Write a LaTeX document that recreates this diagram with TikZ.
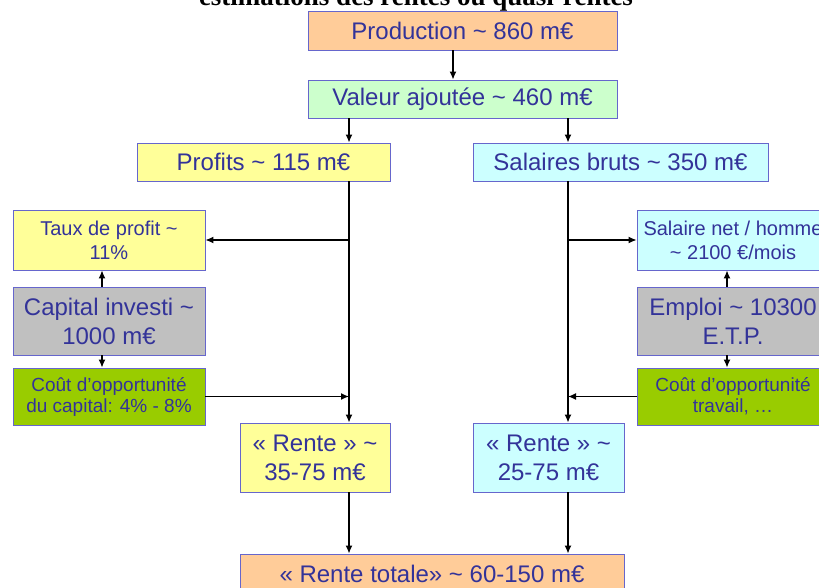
\documentclass[tikz,border=0pt]{standalone}
\usepackage{fontspec}
\setmainfont{Liberation Sans}
\newfontfamily\titlefont{Liberation Serif}
\usepackage{tikz}
\usetikzlibrary{arrows.meta}
\definecolor{boxline}{RGB}{102,102,204}
\definecolor{txtblue}{RGB}{51,51,153}
\definecolor{prodc}{HTML}{FFCC99}
\definecolor{vac}{HTML}{CCFFCC}
\definecolor{yelc}{HTML}{FFFF99}
\definecolor{cyanc}{HTML}{CCFFFF}
\definecolor{grayc}{HTML}{C0C0C0}
\definecolor{greenc}{HTML}{99CC00}

\begin{document}
\begin{tikzpicture}[x=1pt,y=-1pt,>={Latex[length=8pt,width=7pt]},
    box/.style={draw=boxline,line width=0.8pt,text=txtblue,align=center,inner sep=0pt,
      font=\fontsize{24}{29}\selectfont},
    bigbox/.style={box,font=\fontsize{24}{29}\selectfont},
    smallbox/.style={box,font=\fontsize{20}{24}\selectfont},
    costbox/.style={box,fill=greenc,minimum width=192pt,minimum height=57pt,
      font=\fontsize{19}{21}\selectfont},
    arr/.style={->,line width=1.4pt}]
  \useasboundingbox (0,0) rectangle (819,588);

  \node[anchor=base,font=\titlefont\bfseries\fontsize{27}{30}\selectfont] (title) at (416,6)
    {estimations des rentes ou quasi-rentes};

  \node[box,fill=prodc,minimum width=309pt,minimum height=39pt] (prod) at (462.5,30.5)
    {Production \textasciitilde{} 860 m€};
  \node[box,fill=vac,minimum width=309pt,minimum height=38pt] (va) at (462.5,99)
    {Valeur ajoutée \textasciitilde{} 460 m€};
  \node[box,fill=yelc,minimum width=253pt,minimum height=38pt] (profits) at (263.5,162)
    {Profits \textasciitilde{} 115 m€};
  \node[box,fill=cyanc,minimum width=295pt,minimum height=38pt] (salaires) at (620.5,162)
    {Salaires bruts \textasciitilde{} 350 m€};

  \node[smallbox,fill=yelc,minimum width=192pt,minimum height=60pt] (taux) at (109,240)
    {Taux de profit \textasciitilde{}\\11\%};
  \node[bigbox,fill=grayc,minimum width=192pt,minimum height=68pt] (capital) at (109,321)
    {Capital investi \textasciitilde{}\\1000 m€};
  \node[costbox] (coutcap) at (109,396.5) {Coût d’opportunité\\du capital: 4\% - 8\%};

  \node[smallbox,fill=cyanc,minimum width=192pt,minimum height=60pt] (salnet) at (733,240)
    {Salaire net / homme\\\textasciitilde{} 2100 €/mois};
  \node[bigbox,fill=grayc,minimum width=192pt,minimum height=68pt] (emploi) at (733,321)
    {Emploi \textasciitilde{} 10300\\E.T.P.};
  \node[costbox] (couttrav) at (733,396.5) {Coût d’opportunité\\travail, …};

  \node[box,fill=yelc,minimum width=150pt,minimum height=69pt] (renteL) at (315,457.5)
    {« Rente » \textasciitilde{}\\35-75 m€};
  \node[box,fill=cyanc,minimum width=151pt,minimum height=69pt] (renteR) at (548.5,457.5)
    {« Rente » \textasciitilde{}\\25-75 m€};
  \node[box,fill=prodc,minimum width=384pt,minimum height=40pt] (total) at (432,574)
    {« Rente totale» \textasciitilde{} 60-150 m€};

  \coordinate (xL) at (349,0);
  \coordinate (xR) at (568,0);

  \draw[arr] ([xshift=-9.5pt]prod.south) -- ([xshift=-9.5pt]va.north);
  \draw[arr] (va.south -| xL) -- (profits.north -| xL);
  \draw[arr] (va.south -| xR) -- (salaires.north -| xR);
  \draw[arr] (profits.south -| xL) -- (renteL.north -| xL);
  \draw[arr] (salaires.south -| xR) -- (renteR.north -| xR);
  \draw[arr] (xL |- taux.east) -- (taux.east);
  \draw[arr] (xR |- salnet.west) -- (salnet.west);
  \draw[arr] (coutcap.east) -- (coutcap.east -| xL);
  \draw[arr] (couttrav.west) -- (couttrav.west -| xR);
  \draw[arr] ([xshift=-7pt]capital.north) -- ([xshift=-7pt]taux.south);
  \draw[arr] ([xshift=-7pt]capital.south) -- ([xshift=-7pt]coutcap.north);
  \draw[arr] ([xshift=-6pt]emploi.north) -- ([xshift=-6pt]salnet.south);
  \draw[arr] ([xshift=-6pt]emploi.south) -- ([xshift=-6pt]couttrav.north);
  \draw[arr] (renteL.south -| xL) -- (total.north -| xL);
  \draw[arr] (renteR.south -| xR) -- (total.north -| xR);
\end{tikzpicture}
\end{document}
